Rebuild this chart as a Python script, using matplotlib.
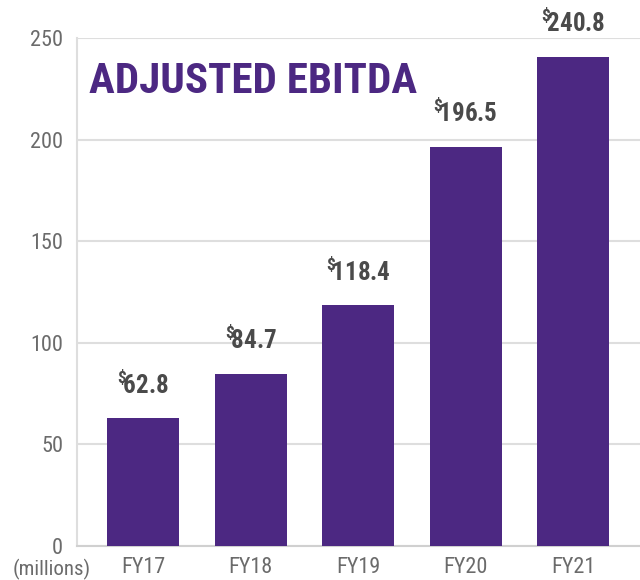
import matplotlib
matplotlib.use('Agg')
import matplotlib.pyplot as plt

# Adjusted EBITDA by fiscal year, in millions
years = ['FY17', 'FY18', 'FY19', 'FY20', 'FY21']
ebitda = [62.8, 84.7, 118.4, 196.5, 240.8]
yticks = [0, 50, 100, 150, 200, 250]

purple = '#4c2882'
plt.rcParams['font.family'] = ['Roboto Condensed', 'DejaVu Sans']
plt.rcParams['mathtext.fontset'] = 'custom'
plt.rcParams['mathtext.rm'] = 'Roboto Condensed:bold'
plt.rcParams['mathtext.bf'] = 'Roboto Condensed:bold'

fig = plt.figure(figsize=(6.4, 5.8), dpi=100)
ax = fig.add_axes([77/640, 34/580, 563/640, 508/580])

x = list(range(len(years)))
ax.bar(x, ebitda, width=0.67, color=purple, zorder=3)

for xi, v in zip(x, ebitda):
    ax.annotate(r'${}^{\$}\!$' + f'{v:.1f}', (xi, v), xytext=(0, 14), textcoords='offset points',
                ha='center', va='bottom', fontsize=18, fontweight='bold', color='#4a4a4a')

ax.set_xlim(-0.615, 4.62)
ax.set_ylim(0, 250)
ax.set_yticks(yticks)
ax.set_xticks(x)
ax.set_xticklabels(years)
ax.tick_params(length=0, labelsize=16, labelcolor='#6b6b6b')
ax.tick_params(axis='y', pad=10)
ax.tick_params(axis='x', pad=8)
ax.grid(axis='y', color='#dedede', linewidth=1.5, zorder=0)
for s in ['top', 'right']:
    ax.spines[s].set_visible(False)
ax.spines['left'].set_color('#dedede')
ax.spines['left'].set_linewidth(1.5)
ax.spines['bottom'].set_color('#d0d0d0')
ax.spines['bottom'].set_linewidth(1.5)

ax.text(0.022, 0.892, 'ADJUSTED EBITDA', transform=ax.transAxes, ha='left', va='baseline',
        fontsize=31, fontweight='bold', color=purple)
fig.text(52/640, 1 - 569/580, '(millions)', ha='center', va='center', fontsize=15, color='#6b6b6b')

fig.savefig('out.png', dpi=100)
